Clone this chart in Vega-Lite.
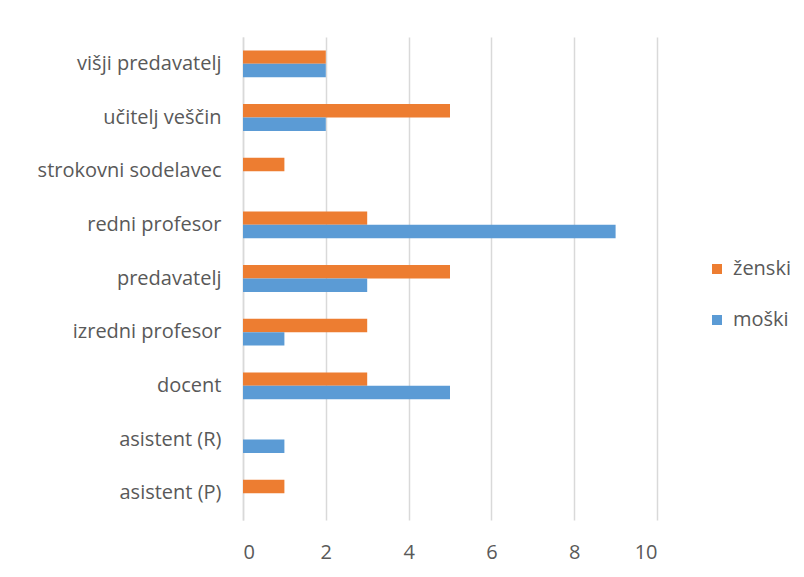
{
  "$schema": "https://vega.github.io/schema/vega-lite/v6.json",
  "autosize": "none",
  "width": 414,
  "height": 483,
  "padding": {"left": 243, "top": 37, "right": 147, "bottom": 57},
  "background": "white",
  "config": {
    "view": {"stroke": null},
    "font": "Open Sans",
    "axis": {"labelFont": "Open Sans", "labelColor": "#595959", "labelFontSize": 20}
  },
  "data": {
    "values": [
      {"kategorija": "višji predavatelj", "spol": "ženski", "stevilo": 2},
      {"kategorija": "višji predavatelj", "spol": "moški", "stevilo": 2},
      {"kategorija": "učitelj veščin", "spol": "ženski", "stevilo": 5},
      {"kategorija": "učitelj veščin", "spol": "moški", "stevilo": 2},
      {"kategorija": "strokovni sodelavec", "spol": "ženski", "stevilo": 1},
      {"kategorija": "strokovni sodelavec", "spol": "moški", "stevilo": 0},
      {"kategorija": "redni profesor", "spol": "ženski", "stevilo": 3},
      {"kategorija": "redni profesor", "spol": "moški", "stevilo": 9},
      {"kategorija": "predavatelj", "spol": "ženski", "stevilo": 5},
      {"kategorija": "predavatelj", "spol": "moški", "stevilo": 3},
      {"kategorija": "izredni profesor", "spol": "ženski", "stevilo": 3},
      {"kategorija": "izredni profesor", "spol": "moški", "stevilo": 1},
      {"kategorija": "docent", "spol": "ženski", "stevilo": 3},
      {"kategorija": "docent", "spol": "moški", "stevilo": 5},
      {"kategorija": "asistent (R)", "spol": "ženski", "stevilo": 0},
      {"kategorija": "asistent (R)", "spol": "moški", "stevilo": 1},
      {"kategorija": "asistent (P)", "spol": "ženski", "stevilo": 1},
      {"kategorija": "asistent (P)", "spol": "moški", "stevilo": 0}
    ]
  },
  "mark": {"type": "bar"},
  "encoding": {
    "y": {
      "field": "kategorija",
      "type": "nominal",
      "sort": ["višji predavatelj", "učitelj veščin", "strokovni sodelavec", "redni profesor", "predavatelj", "izredni profesor", "docent", "asistent (R)", "asistent (P)"],
      "scale": {"paddingInner": 0.5, "paddingOuter": 0.25},
      "axis": {"title": null, "ticks": false, "domain": true, "domainColor": "#D9D9D9", "domainWidth": 1.5, "labelPadding": 22, "labelLimit": 300, "grid": false}
    },
    "yOffset": {
      "field": "spol",
      "type": "nominal",
      "sort": ["ženski", "moški"],
      "scale": {"paddingInner": 0, "paddingOuter": 0}
    },
    "x": {
      "field": "stevilo",
      "type": "quantitative",
      "scale": {"domain": [0, 10], "nice": false},
      "axis": {"title": null, "values": [0, 2, 4, 6, 8, 10], "ticks": false, "domain": false, "grid": true, "gridColor": "#D9D9D9", "gridWidth": 1.5, "labelPadding": 22}
    },
    "color": {
      "field": "spol",
      "type": "nominal",
      "sort": ["ženski", "moški"],
      "scale": {"domain": ["ženski", "moški"], "range": ["#ED7D31", "#5B9BD5"]},
      "legend": {
        "title": null,
        "orient": "none",
        "legendX": 464,
        "legendY": 222,
        "symbolType": "square",
        "symbolSize": 100,
        "symbolStrokeWidth": 0,
        "labelFont": "Open Sans",
        "labelFontSize": 20,
        "labelColor": "#595959",
        "rowPadding": 31,
        "labelOffset": 6
      }
    }
  }
}
